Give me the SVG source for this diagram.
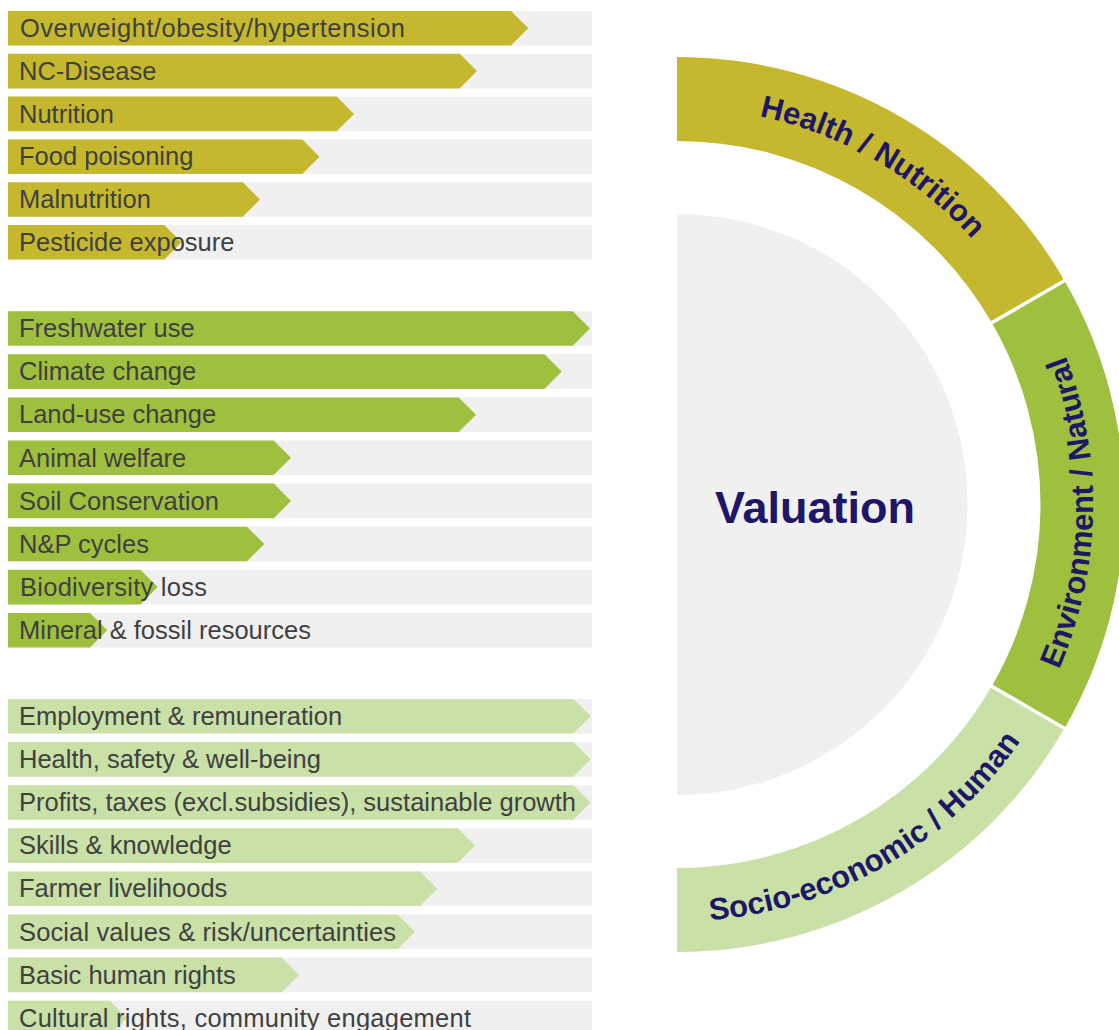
<svg xmlns="http://www.w3.org/2000/svg" width="1119" height="1030" viewBox="0 0 1119 1030">
<style>
.bg{fill:#f0f0f0}
.g1{fill:#c5b82f}
.g2{fill:#9fbf3f}
.g3{fill:#c9e1a6}
.lbl{font-family:"Liberation Sans",Arial,sans-serif;font-size:25.5px;fill:#404040}
.ring{font-family:"Liberation Sans",Arial,sans-serif;font-size:31px;font-weight:bold;fill:#1e1767}
.val{font-family:"Liberation Sans",Arial,sans-serif;font-size:45px;font-weight:bold;fill:#1e1767;text-anchor:middle}
.gap{stroke:#ffffff;stroke-width:3.5;fill:none}
</style>
<defs>
<path id="pHealth" d="M677,107.5 A397,397 0 0 1 1020.81,306"/>
<path id="pEnv" d="M1037.27,712.5 A416,416 0 0 0 1037.27,296.5"/>
<path id="pSocio" d="M677,921.5 A417,417 0 0 0 1038.13,713"/>
</defs>
<rect width="1119" height="1030" fill="#ffffff"/>

<g id="health-bars">
<g id="overweight"><rect class="bg" x="8" y="11" width="584" height="34.6"/><polygon class="g1" points="8,11 511,11 528.3,28.3 511,45.6 8,45.6"/><text class="lbl" x="20" y="37" textLength="385" lengthAdjust="spacing">Overweight/obesity/hypertension</text></g>
<g id="nc-disease"><rect class="bg" x="8" y="53.8" width="584" height="34.6"/><polygon class="g1" points="8,53.8 459.7,53.8 477,71.1 459.7,88.4 8,88.4"/><text class="lbl" x="19" y="79.8">NC-Disease</text></g>
<g id="nutrition"><rect class="bg" x="8" y="96.6" width="584" height="34.6"/><polygon class="g1" points="8,96.6 336.7,96.6 354,113.9 336.7,131.2 8,131.2"/><text class="lbl" x="19" y="122.6">Nutrition</text></g>
<g id="food-poisoning"><rect class="bg" x="8" y="139.4" width="584" height="34.6"/><polygon class="g1" points="8,139.4 302.2,139.4 319.5,156.7 302.2,174 8,174"/><text class="lbl" x="19" y="165.4">Food poisoning</text></g>
<g id="malnutrition"><rect class="bg" x="8" y="182.2" width="584" height="34.6"/><polygon class="g1" points="8,182.2 242.7,182.2 260,199.5 242.7,216.8 8,216.8"/><text class="lbl" x="19" y="208.2">Malnutrition</text></g>
<g id="pesticide"><rect class="bg" x="8" y="225" width="584" height="34.6"/><polygon class="g1" points="8,225 164.2,225 181.5,242.3 164.2,259.6 8,259.6"/><text class="lbl" x="19" y="251">Pesticide exposure</text></g>
</g>

<g id="environment-bars">
<g id="freshwater"><rect class="bg" x="8" y="311.2" width="584" height="34.6"/><polygon class="g2" points="8,311.2 572.7,311.2 590,328.5 572.7,345.8 8,345.8"/><text class="lbl" x="19" y="337.2">Freshwater use</text></g>
<g id="climate"><rect class="bg" x="8" y="354.3" width="584" height="34.6"/><polygon class="g2" points="8,354.3 544.4,354.3 561.7,371.6 544.4,388.9 8,388.9"/><text class="lbl" x="19" y="380.3">Climate change</text></g>
<g id="land-use"><rect class="bg" x="8" y="397.4" width="584" height="34.6"/><polygon class="g2" points="8,397.4 458.7,397.4 476,414.7 458.7,432 8,432"/><text class="lbl" x="19" y="423.4">Land-use change</text></g>
<g id="animal-welfare"><rect class="bg" x="8" y="440.5" width="584" height="34.6"/><polygon class="g2" points="8,440.5 273.7,440.5 291,457.8 273.7,475.1 8,475.1"/><text class="lbl" x="19" y="466.5">Animal welfare</text></g>
<g id="soil"><rect class="bg" x="8" y="483.6" width="584" height="34.6"/><polygon class="g2" points="8,483.6 273.7,483.6 291,500.9 273.7,518.2 8,518.2"/><text class="lbl" x="19" y="509.6">Soil Conservation</text></g>
<g id="np-cycles"><rect class="bg" x="8" y="526.7" width="584" height="34.6"/><polygon class="g2" points="8,526.7 247,526.7 264.3,544 247,561.3 8,561.3"/><text class="lbl" x="19" y="552.7">N&amp;P cycles</text></g>
<g id="biodiversity"><rect class="bg" x="8" y="569.8" width="584" height="34.6"/><polygon class="g2" points="8,569.8 140.4,569.8 157.7,587.1 140.4,604.4 8,604.4"/><text class="lbl" x="20" y="595.8" textLength="187" lengthAdjust="spacing">Biodiversity loss</text></g>
<g id="mineral"><rect class="bg" x="8" y="612.9" width="584" height="34.6"/><polygon class="g2" points="8,612.9 90,612.9 107.3,630.2 90,647.5 8,647.5"/><text class="lbl" x="19" y="638.9">Mineral &amp; fossil resources</text></g>
</g>

<g id="socio-bars">
<g id="employment"><rect class="bg" x="8" y="699" width="584" height="34.6"/><polygon class="g3" points="8,699 573.4,699 590.7,716.3 573.4,733.6 8,733.6"/><text class="lbl" x="19" y="725">Employment &amp; remuneration</text></g>
<g id="health-safety"><rect class="bg" x="8" y="742.1" width="584" height="34.6"/><polygon class="g3" points="8,742.1 573.4,742.1 590.7,759.4 573.4,776.7 8,776.7"/><text class="lbl" x="19" y="768.1">Health, safety &amp; well-being</text></g>
<g id="profits"><rect class="bg" x="8" y="785.2" width="584" height="34.6"/><polygon class="g3" points="8,785.2 573.4,785.2 590.7,802.5 573.4,819.8 8,819.8"/><text class="lbl" x="19" y="811.2">Profits, taxes (excl.subsidies), sustainable growth</text></g>
<g id="skills"><rect class="bg" x="8" y="828.3" width="584" height="34.6"/><polygon class="g3" points="8,828.3 457.7,828.3 475,845.6 457.7,862.9 8,862.9"/><text class="lbl" x="19" y="854.3">Skills &amp; knowledge</text></g>
<g id="farmer"><rect class="bg" x="8" y="871.4" width="584" height="34.6"/><polygon class="g3" points="8,871.4 420,871.4 437.3,888.7 420,906 8,906"/><text class="lbl" x="19" y="897.4">Farmer livelihoods</text></g>
<g id="social-values"><rect class="bg" x="8" y="914.5" width="584" height="34.6"/><polygon class="g3" points="8,914.5 397.7,914.5 415,931.8 397.7,949.1 8,949.1"/><text class="lbl" x="19" y="940.5" textLength="377" lengthAdjust="spacing">Social values &amp; risk/uncertainties</text></g>
<g id="basic-rights"><rect class="bg" x="8" y="957.6" width="584" height="34.6"/><polygon class="g3" points="8,957.6 281.7,957.6 299,974.9 281.7,992.2 8,992.2"/><text class="lbl" x="19" y="983.6">Basic human rights</text></g>
<g id="cultural-rights"><rect class="bg" x="8" y="1000.7" width="584" height="34.6"/><polygon class="g3" points="8,1000.7 109.7,1000.7 127,1018 109.7,1035.3 8,1035.3"/><text class="lbl" x="19" y="1026.7" textLength="452" lengthAdjust="spacing">Cultural rights, community engagement</text></g>
</g>

<g id="valuation">
<path d="M677,214 A290.5,290.5 0 0 1 677,795 Z" fill="#f0f0f0"/>
<text class="val" x="815" y="523">Valuation</text>
</g>

<g id="ring-health">
<path class="g1" d="M677,57 A447.5,447.5 0 0 1 1064.55,280.75 L991.80,322.75 A363.5,363.5 0 0 0 677,141 Z"/>
<text class="ring"><textPath href="#pHealth" startOffset="50%" text-anchor="middle">Health / Nutrition</textPath></text>
</g>
<g id="ring-environment">
<path class="g2" d="M1064.55,280.75 A447.5,447.5 0 0 1 1064.55,728.25 L991.80,686.25 A363.5,363.5 0 0 0 991.80,322.75 Z"/>
<text class="ring"><textPath href="#pEnv" startOffset="48%" text-anchor="middle">Environment / Natural</textPath></text>
</g>
<g id="ring-socio">
<path class="g3" d="M1064.55,728.25 A447.5,447.5 0 0 1 677,952 L677,868 A363.5,363.5 0 0 0 991.80,686.25 Z"/>
<text class="ring"><textPath href="#pSocio" startOffset="50%" text-anchor="middle">Socio-economic / Human</textPath></text>
</g>
<g id="connectors">
<line class="gap" x1="990" y1="323.8" x2="1066.5" y2="279.6"/>
<line class="gap" x1="990" y1="685.2" x2="1066.5" y2="729.4"/>
</g>
</svg>
